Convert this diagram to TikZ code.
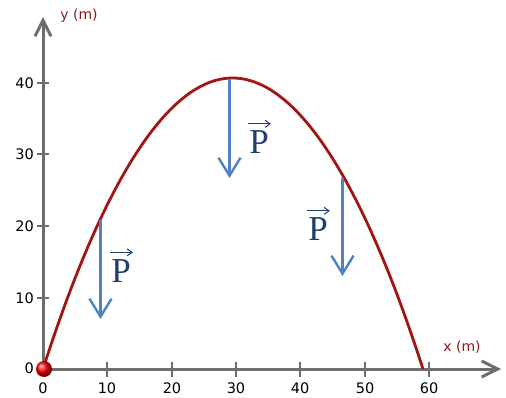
\documentclass[tikz,border=0pt]{standalone}
\usepackage{fontspec}
\setmainfont{DejaVu Sans}
\newfontfamily\pfont{Liberation Serif}
\usetikzlibrary{arrows.meta}
\definecolor{axisgray}{HTML}{6E6E6E}
\definecolor{curvered}{HTML}{A31414}
\definecolor{forceblue}{HTML}{4F81C4}
\definecolor{labelblue}{HTML}{1F3F73}
\definecolor{unitred}{HTML}{8B1A1A}
\begin{document}
\begin{tikzpicture}[x=1pt,y=-1pt,
  axis/.style={draw=axisgray,line width=3pt,-{Straight Barb[length=16pt,width=16pt,line width=3pt]}},
  tickmark/.style={draw=axisgray,line width=2.2pt},
  ticklbl/.style={font=\fontsize{14.5}{15}\selectfont,text=black,inner sep=0pt},
  unitlbl/.style={font=\fontsize{14}{15}\selectfont,text=unitred,inner sep=0pt},
  force/.style={draw=forceblue,line width=2.4pt,-{Straight Barb[length=18pt,width=22pt,line width=2.4pt]}},
  plbl/.style={font=\pfont\fontsize{35}{35}\selectfont,text=labelblue,inner sep=0pt},
  vecbar/.style={draw=labelblue,line width=1.1pt,-{Straight Barb[length=5pt,width=7pt,line width=1pt]}}]
\useasboundingbox (0,0) rectangle (506,398);
% axes
\coordinate (O) at (43,369);
\coordinate (xend) at (501,369);
\coordinate (yend) at (43,17);
\draw[axis] (O) -- (xend);
\draw[axis] (O) -- (yend);
% x ticks
\foreach \v/\px in {10/107,20/172,30/236,40/300,50/365,60/429}{
  \draw[tickmark] (\px,362) -- (\px,377);
  \node[ticklbl] (xl\v) at (\px,388) {\v};
}
\node[ticklbl] (xl0) at (43,388) {0};
% y ticks
\foreach \v/\py in {10/298,20/226,30/154,40/83}{
  \draw[tickmark] (37,\py) -- (49,\py);
  \node[ticklbl,anchor=east] (yl\v) at (34,\py) {\v};
}
\node[ticklbl,anchor=east] (yl0) at (34,368) {0};
% unit labels
\node[unitlbl] (ylab) at (79,16) {y (m)};
\node[unitlbl] (xlab) at (462,347) {x (m)};
% trajectory
\draw[curvered,line width=2.8pt] (O) parabola bend (232.5,78) (423,369);
% ball
\shade[ball color=red] (44,369) circle (8);
% weight vectors
\coordinate (f1s) at (100.5,220);
\coordinate (f1e) at (100.5,319);
\coordinate (f2s) at (229.5,79);
\coordinate (f2e) at (229.5,178);
\coordinate (f3s) at (342.5,178);
\coordinate (f3e) at (342.5,276);
\draw[force] (f1s) -- (f1e);
\draw[force] (f2s) -- (f2e);
\draw[force] (f3s) -- (f3e);
% labels P with vector arrows
\node[plbl] (p1) at (121,271) {P};
\node[plbl] (p2) at (259,142.5) {P};
\node[plbl] (p3) at (318,229.5) {P};
\foreach \p in {p1,p2,p3}{
  \draw[vecbar] ([xshift=-1pt,yshift=7pt]\p.north west) -- ([xshift=2pt,yshift=7pt]\p.north east);
}
\end{tikzpicture}
\end{document}
